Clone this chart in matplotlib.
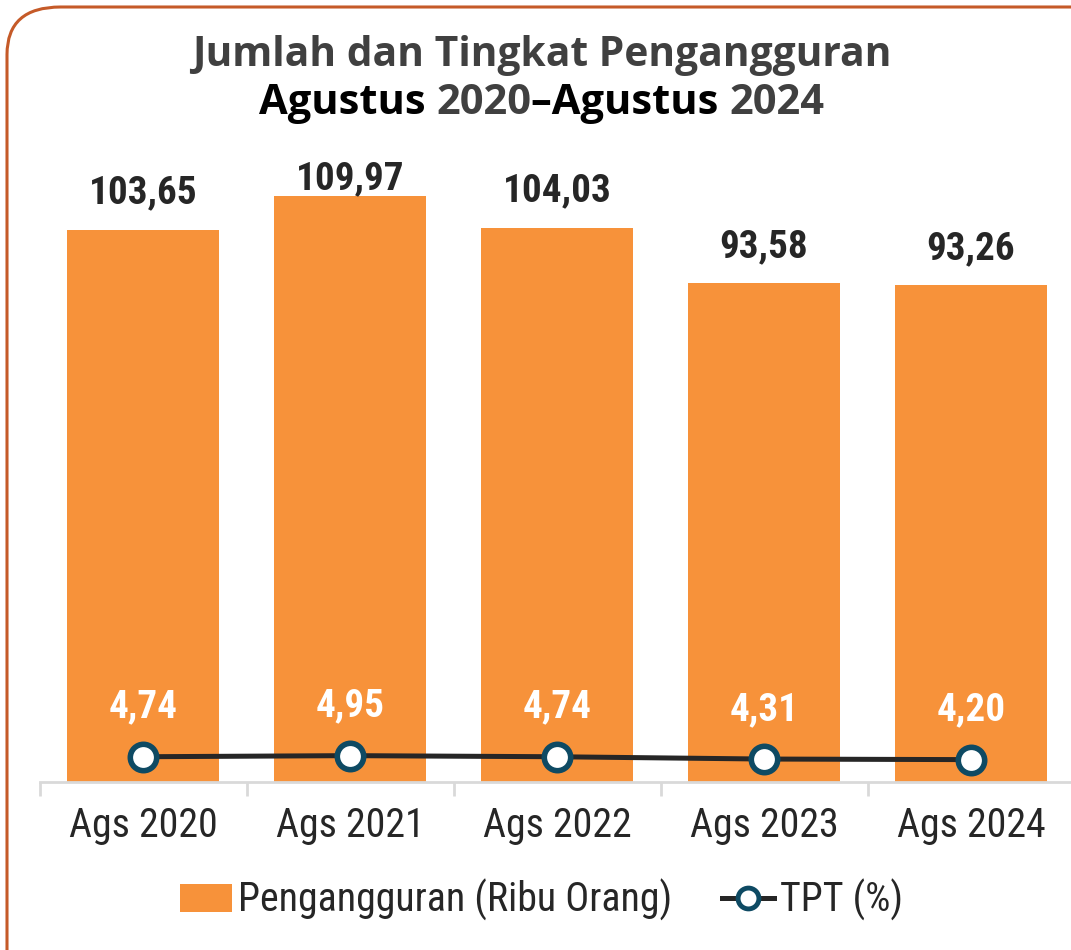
import matplotlib.pyplot as plt
from matplotlib.patches import FancyBboxPatch, Patch
from matplotlib.lines import Line2D
import numpy as np

# Data
categories = ['Ags 2020', 'Ags 2021', 'Ags 2022', 'Ags 2023', 'Ags 2024']
pengangguran = [103.65, 109.97, 104.03, 93.58, 93.26]
tpt = [4.74, 4.95, 4.74, 4.31, 4.20]

bar_color = '#F7923A'
line_color = '#262626'
marker_edge = '#0E4A63'
narrow = ['Roboto Condensed', 'DejaVu Sans']


def fmt(v):
    return f'{v:.2f}'.replace('.', ',')


fig = plt.figure(figsize=(10.71, 9.5), dpi=100)

# rounded frame around the whole chart
frame = FancyBboxPatch((7 / 1071, -0.05), 1.1, 1.0 - 7 / 950 + 0.05,
                       boxstyle='round,pad=0,rounding_size=0.05',
                       transform=fig.transFigure, facecolor='white',
                       edgecolor='#C55A28', linewidth=2.2, zorder=-1)
fig.patches.append(frame)

ax = fig.add_axes([39.5 / 1071, 1 - 782 / 950, 1035 / 1071, 612 / 950])
ax.set_facecolor('none')
ax.set_zorder(1)

x = np.arange(len(categories))
ax.bar(x, pengangguran, width=0.734, color=bar_color, zorder=2)
ax.plot(x, tpt, color=line_color, linewidth=3.6, marker='o', markersize=19,
        markerfacecolor='white', markeredgecolor=marker_edge,
        markeredgewidth=4, zorder=3)

ax.set_xlim(-0.5, len(categories) - 0.5)
ax.set_ylim(0, 612 / 5.327)

# value labels
for xi, v in zip(x, pengangguran):
    y = min(v + 6.9, 113.3)
    ax.text(xi, y, fmt(v), ha='center', va='center', fontsize=28.2,
            fontweight='bold', family=narrow, color='#262626', zorder=4)
for xi, v in zip(x, tpt):
    ax.text(xi, v + 9.3, fmt(v), ha='center', va='center', fontsize=28.2,
            fontweight='bold', family=narrow, color='white', zorder=4)

for s in ['top', 'right', 'left']:
    ax.spines[s].set_visible(False)
ax.spines['bottom'].set_color('#D9D9D9')
ax.spines['bottom'].set_linewidth(2)
ax.set_yticks([])
ax.set_xticks(x)
ax.set_xticklabels(categories, fontsize=28.7, family=narrow, color='#262626')
ax.tick_params(axis='x', which='major', length=0, pad=17)
ax.set_xticks(np.arange(len(categories) + 1) - 0.5, minor=True)
ax.tick_params(axis='x', which='minor', length=10, width=2, color='#D9D9D9')

# title
cx = 541.5 / 1071
fig.text(cx, 1 - 55 / 950, 'Jumlah dan Tingkat Pengangguran', ha='center',
         va='center', fontsize=29.3, fontweight='bold', family='Open Sans',
         color='#404040')
parts = [('Agustus ', 'black'), ('2020', '#404040'), ('–Agustus ', 'black'),
         ('2024', '#404040')]
fig.canvas.draw()
renderer = fig.canvas.get_renderer()
widths = []
texts = []
for s, c in parts:
    t = fig.text(0, 1 - 103 / 950, s, ha='left', va='center', fontsize=30,
                 fontweight='bold', family='Open Sans', color=c)
    widths.append(t.get_window_extent(renderer).width / fig.bbox.width)
    texts.append(t)
xpos = cx - sum(widths) / 2
for t, w in zip(texts, widths):
    t.set_x(xpos)
    xpos += w

# legend
handles = [Patch(facecolor=bar_color, edgecolor='none'),
           Line2D([0], [0], color=line_color, linewidth=3.6, marker='o',
                  markersize=15, markerfacecolor='white',
                  markeredgecolor=marker_edge, markeredgewidth=3.5)]
fig.legend(handles, ['Pengangguran (Ribu Orang)', 'TPT (%)'], loc='center',
           bbox_to_anchor=(cx, 1 - 900 / 950), ncol=2, frameon=False,
           prop={'family': narrow, 'size': 28.7}, handlelength=1.3,
           handletextpad=0.15, columnspacing=1.25, labelcolor='#262626')

fig.savefig('out.png', dpi=100)
